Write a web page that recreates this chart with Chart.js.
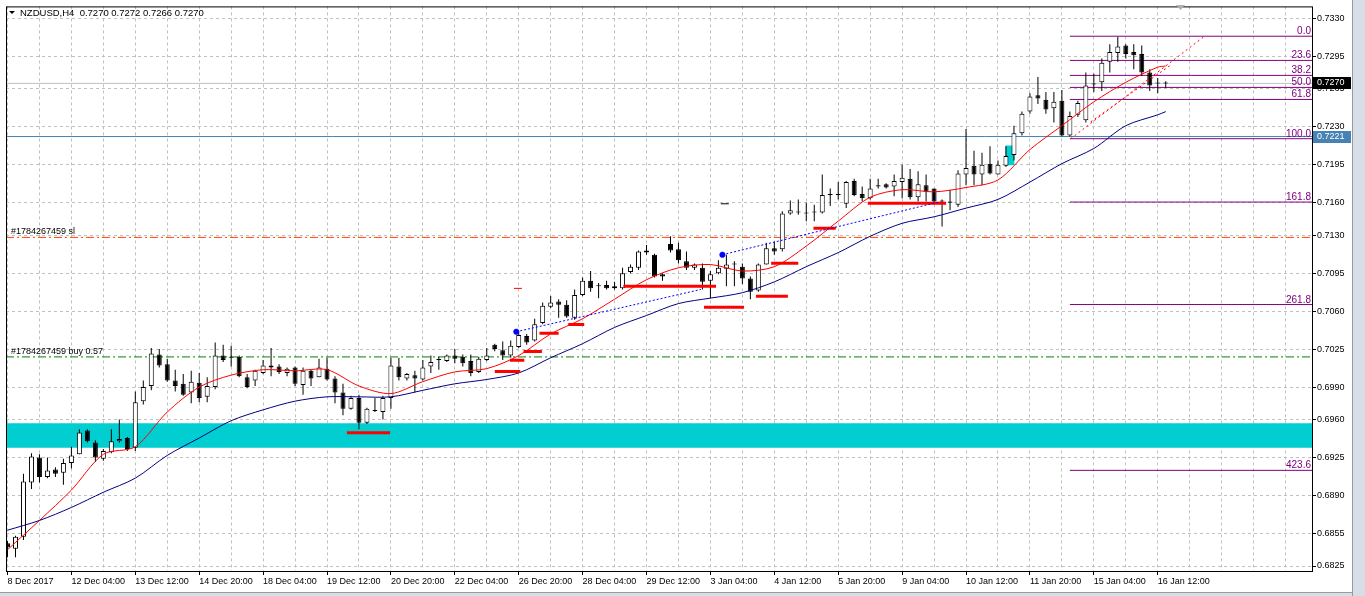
<!DOCTYPE html>
<html>
<head>
<meta charset="utf-8">
<script src="https://cdn.jsdelivr.net/npm/chart.js@4.4.1/dist/chart.umd.min.js"></script>
<style>
  html, body { margin: 0; padding: 0; background: #fff; overflow: hidden; }
  #wrap { width: 1365px; height: 596px; }
</style>
</head>
<body>
<div id="wrap"><canvas id="c" width="1365" height="596"></canvas></div>
<script>
// NZDUSD H4 candles
const opens = [0.6846,0.6841,0.6852,0.6902,0.6925,0.6907,0.6914,0.6911,0.6920,0.6928,
  0.6950,0.6939,0.6924,0.6930,0.6940,0.6943,0.6934,0.6977,0.6991,0.7020,
  0.7011,0.6996,0.6993,0.6985,0.6994,0.6981,0.6990,0.7019,0.7017,0.7018,
  0.6999,0.6996,0.7003,0.7010,0.7009,0.7003,0.7008,0.6992,0.7005,0.6999,
  0.7007,0.6998,0.6985,0.6970,0.6980,0.6957,0.6968,0.6967,0.6980,0.7009,
  0.6998,0.7001,0.6997,0.7009,0.7015,0.7014,0.7019,0.7018,0.7014,0.7004,
  0.7015,0.7029,0.7024,0.7019,0.7027,0.7037,0.7033,0.7049,0.7064,0.7069,
  0.7066,0.7054,0.7075,0.7088,0.7083,0.7084,0.7081,0.7081,0.7096,0.7100,
  0.7116,0.7112,0.7094,0.7122,0.7117,0.7106,0.7100,0.7100,0.7088,0.7095,
  0.7099,0.7103,0.7101,0.7090,0.7079,0.7103,0.7118,0.7117,0.7150,0.7151,
  0.7151,0.7151,0.7151,0.7168,0.7167,0.7159,0.7180,0.7168,0.7164,0.7175,
  0.7177,0.7175,0.7179,0.7182,0.7165,0.7176,0.7173,0.7161,0.7161,0.7158,
  0.7186,0.7194,0.7186,0.7196,0.7186,0.7194,0.7204,0.7224,0.7244,0.7259,
  0.7255,0.7247,0.7254,0.7222,0.7241,0.7236,0.7270,0.7271,0.7290,0.7298,
  0.7305,0.7299,0.7297,0.7280,0.7270,0.7270];
const highs = [0.6848,0.6853,0.6910,0.6929,0.6928,0.6925,0.6916,0.6924,0.6935,0.6951,
  0.6951,0.6941,0.6933,0.6951,0.6960,0.6944,0.6986,0.6996,0.7026,0.7025,
  0.7016,0.7006,0.7002,0.7005,0.7003,0.6999,0.7031,0.7029,0.7028,0.7019,
  0.7002,0.7006,0.7015,0.7026,0.7011,0.7008,0.7009,0.7008,0.7006,0.7016,
  0.7017,0.7000,0.6993,0.6982,0.6983,0.6971,0.6980,0.6982,0.7017,0.7017,
  0.7003,0.7005,0.7015,0.7019,0.7018,0.7020,0.7025,0.7020,0.7020,0.7018,
  0.7026,0.7030,0.7032,0.7033,0.7040,0.7039,0.7053,0.7068,0.7074,0.7071,
  0.7070,0.7080,0.7091,0.7097,0.7086,0.7088,0.7087,0.7100,0.7103,0.7116,
  0.7121,0.7113,0.7095,0.7129,0.7123,0.7115,0.7104,0.7104,0.7097,0.7107,
  0.7112,0.7106,0.7104,0.7092,0.7104,0.7123,0.7124,0.7152,0.7162,0.7163,
  0.7160,0.7158,0.7186,0.7173,0.7179,0.7180,0.7182,0.7175,0.7182,0.7182,
  0.7178,0.7186,0.7195,0.7191,0.7189,0.7186,0.7173,0.7163,0.7172,0.7190,
  0.7228,0.7208,0.7206,0.7212,0.7199,0.7212,0.7231,0.7244,0.7261,0.7276,
  0.7262,0.7262,0.7264,0.7244,0.7254,0.7280,0.7279,0.7293,0.7306,0.7313,
  0.7306,0.7306,0.7305,0.7283,0.7275,0.7272];
const lows = [0.6833,0.6833,0.6849,0.6896,0.6902,0.6906,0.6907,0.6900,0.6915,0.6928,
  0.6939,0.6921,0.6922,0.6929,0.6939,0.6931,0.6931,0.6974,0.6987,0.7008,
  0.6995,0.6986,0.6982,0.6975,0.6976,0.6976,0.6988,0.7013,0.7009,0.6999,
  0.6989,0.6991,0.7002,0.7000,0.7002,0.7000,0.6991,0.6983,0.6991,0.6999,
  0.6996,0.6975,0.6964,0.6969,0.6951,0.6956,0.6967,0.6960,0.6970,0.6996,
  0.6996,0.6985,0.6996,0.7003,0.7006,0.7013,0.7012,0.7009,0.7000,0.7003,
  0.7014,0.7023,0.7015,0.7017,0.7026,0.7029,0.7032,0.7048,0.7063,0.7054,
  0.7054,0.7052,0.7074,0.7078,0.7072,0.7080,0.7080,0.7080,0.7095,0.7098,
  0.7112,0.7091,0.7088,0.7114,0.7104,0.7098,0.7098,0.7080,0.7072,0.7094,
  0.7083,0.7083,0.7085,0.7071,0.7078,0.7103,0.7112,0.7115,0.7149,0.7149,
  0.7143,0.7143,0.7150,0.7157,0.7163,0.7155,0.7166,0.7161,0.7163,0.7173,
  0.7173,0.7166,0.7164,0.7163,0.7161,0.7161,0.7159,0.7138,0.7153,0.7156,
  0.7176,0.7176,0.7176,0.7186,0.7186,0.7193,0.7199,0.7222,0.7242,0.7251,
  0.7242,0.7234,0.7221,0.7221,0.7239,0.7234,0.7262,0.7263,0.7280,0.7290,
  0.7293,0.7283,0.7277,0.7263,0.7261,0.7266];
const closes = [0.6842,0.6852,0.6903,0.6926,0.6907,0.6913,0.6910,0.6920,0.6927,0.6948,
  0.6940,0.6925,0.6931,0.6940,0.6942,0.6933,0.6976,0.6990,0.7021,0.7010,
  0.6996,0.6991,0.6983,0.6995,0.6980,0.6991,0.7019,0.7015,0.7017,0.7000,
  0.6990,0.7005,0.7010,0.7008,0.7004,0.7007,0.6993,0.7005,0.6998,0.7008,
  0.6997,0.6985,0.6970,0.6980,0.6957,0.6970,0.6968,0.6980,0.7010,0.6999,
  0.7002,0.6998,0.7008,0.7013,0.7015,0.7019,0.7016,0.7012,0.7003,0.7016,
  0.7019,0.7025,0.7019,0.7028,0.7038,0.7031,0.7048,0.7065,0.7068,0.7066,
  0.7055,0.7075,0.7088,0.7081,0.7083,0.7081,0.7083,0.7095,0.7101,0.7115,
  0.7114,0.7092,0.7092,0.7116,0.7107,0.7100,0.7103,0.7087,0.7094,0.7100,
  0.7103,0.7103,0.7090,0.7078,0.7103,0.7118,0.7115,0.7150,0.7153,0.7151,
  0.7150,0.7151,0.7167,0.7167,0.7167,0.7179,0.7167,0.7164,0.7173,0.7176,
  0.7174,0.7180,0.7183,0.7165,0.7177,0.7170,0.7161,0.7161,0.7160,0.7187,
  0.7192,0.7186,0.7195,0.7187,0.7195,0.7203,0.7224,0.7242,0.7258,0.7256,
  0.7246,0.7253,0.7222,0.7240,0.7252,0.7268,0.7269,0.7289,0.7299,0.7304,
  0.7297,0.7296,0.7280,0.7268,0.7270,0.7270];

// moving averages, read every 4th bar
const maBars = [0,4,8,12,16,20,24,28,32,36,40,44,48,52,56,60,64,68,72,76,80,84,88,92,96,100,104,108,112,116,120,124,128,132,136,140,144,145];
const redMa = [0.6840,0.6867,0.6895,0.6928,0.6935,0.6967,0.6990,0.7001,0.7006,0.7005,0.7006,0.6991,0.6984,0.6995,0.7004,0.7007,0.7019,0.7039,0.7053,0.7071,0.7089,0.7100,0.7103,0.7097,0.7101,0.7120,0.7143,0.7165,0.7172,0.7170,0.7174,0.7181,0.7209,0.7231,0.7253,0.7271,0.7285,0.7286];
const navyMa = [0.6858,0.6867,0.6879,0.6893,0.6906,0.6927,0.6943,0.6959,0.6969,0.6977,0.6981,0.6981,0.6981,0.6987,0.6993,0.6997,0.7003,0.7017,0.7030,0.7045,0.7056,0.7067,0.7072,0.7077,0.7087,0.7101,0.7114,0.7129,0.7141,0.7147,0.7155,0.7163,0.7179,0.7196,0.7210,0.7231,0.7241,0.7244];

// axis labels
const xLabels = ['8 Dec 2017','12 Dec 04:00','13 Dec 12:00','14 Dec 20:00','18 Dec 04:00','19 Dec 12:00',
  '20 Dec 20:00','22 Dec 04:00','26 Dec 20:00','28 Dec 04:00','29 Dec 12:00','3 Jan 04:00','4 Jan 12:00',
  '5 Jan 20:00','9 Jan 04:00','10 Jan 12:00','11 Jan 20:00','15 Jan 04:00','16 Jan 12:00'];
const yTicks = [0.6825,0.6855,0.6890,0.6925,0.6960,0.6990,0.7025,0.7060,0.7095,0.7130,0.7160,0.7195,0.7230,0.7265,0.7295,0.7330];

// fibonacci levels
const fibNames = ['0.0','23.6','38.2','50.0','61.8','100.0','161.8','261.8','423.6'];
const fibPrices = [0.73135,0.72912,0.72774,0.72663,0.72552,0.72190,0.71606,0.70661,0.69132];

// other objects on the chart
const zoneTop = 0.69566, zoneBottom = 0.69340;
const boxBar = 125.5, boxLow = 0.71948, boxHigh = 0.72125;
const bidPrice = 0.7270, bluePrice = 0.7221;
const slPrice = 0.71280, buyPrice = 0.70178;
const supportBars = [[42.5,47.9],[61,64.2],[62.9,64.7],[64.6,66.9],[66.6,69],[70.2,72.2],[77.1,88.7],[87.2,92.2],[93.7,97.7],[95.6,99],[100.9,103.7],[107.7,117.5]];
const supportPrices = [0.69478,0.70043,0.70148,0.70227,0.70396,0.70478,0.70830,0.70637,0.70738,0.71041,0.71365,0.71595];
const dashBars = [[63.4,64.4],[89.3,90.3]];
const dashPrices = [0.70810,0.71590];
const dashColors = ['#FF0000','#000000'];
const blueTrendBars = [[63.7,86.8],[89.5,116.8]];
const blueTrendPrices = [[0.70410,0.70800],[0.71120,0.71610]];
const redTrendBars = [[133.1,149.7],[135.6,145.6]];
const redTrendPrices = [[0.72190,0.73126],[0.72345,0.72868]];

const xMin = -0.1875, xMax = 163.3125;
const seg = (x1, x2, v) => [{x: x1, y: v}, {x: x2, y: v}];

const datasets = [];
datasets.push({
  type: 'line', data: seg(xMin, xMax, zoneTop), borderWidth: 0, pointRadius: 0,
  backgroundColor: '#00CED1', fill: {value: zoneBottom}, order: 20
});
datasets.push({
  type: 'bar', data: [{x: boxBar, y: [boxLow, boxHigh]}], backgroundColor: '#00CED1',
  barThickness: 8, grouped: false, order: 19
});
datasets.push({type: 'line', data: seg(xMin, xMax, bidPrice), borderColor: '#C0C0C0', borderWidth: 1, pointRadius: 0, order: 18});
datasets.push({type: 'line', data: seg(xMin, xMax, bluePrice), borderColor: '#4682B4', borderWidth: 1, pointRadius: 0, order: 18});
datasets.push({type: 'line', data: seg(xMin, xMax, slPrice), borderColor: '#FF4500', borderWidth: 1, borderDash: [8, 3, 2, 3], pointRadius: 0, order: 18});
datasets.push({type: 'line', data: seg(xMin, xMax, buyPrice), borderColor: '#008000', borderWidth: 1, borderDash: [8, 3, 2, 3], pointRadius: 0, order: 18});
fibPrices.forEach(p => datasets.push({
  type: 'line', data: seg(133, xMax, p), borderColor: '#800080', borderWidth: 1, pointRadius: 0, order: 17
}));

datasets.push({
  type: 'bar', data: opens.map((o, i) => ({x: i, y: [lows[i], highs[i]]})),
  backgroundColor: '#000', barThickness: 1, grouped: false, minBarLength: 1, inflateAmount: 0, order: 10
});
datasets.push({
  type: 'bar', data: opens.map((o, i) => ({x: i, y: [o, closes[i]]})),
  backgroundColor: opens.map((o, i) => closes[i] >= o ? '#FFFFFF' : '#000000'),
  borderColor: '#000', borderWidth: 1, borderSkipped: false,
  barThickness: 5, grouped: false, minBarLength: 1, inflateAmount: 0, order: 9
});

datasets.push({type: 'line', data: maBars.map((b, i) => ({x: b, y: navyMa[i]})), borderColor: '#000080', borderWidth: 1, pointRadius: 0, tension: 0.3, order: 5});
datasets.push({type: 'line', data: maBars.map((b, i) => ({x: b, y: redMa[i]})), borderColor: '#FF0000', borderWidth: 1, pointRadius: 0, tension: 0.3, order: 5});

supportBars.forEach((b, i) => datasets.push({
  type: 'line', data: seg(b[0], b[1], supportPrices[i]), borderColor: '#FF0000', borderWidth: 3, pointRadius: 0, order: 3
}));
dashBars.forEach((b, i) => datasets.push({
  type: 'line', data: seg(b[0], b[1], dashPrices[i]), borderColor: dashColors[i], borderWidth: 1, pointRadius: 0, order: 3
}));
blueTrendBars.forEach((b, i) => datasets.push({
  type: 'line', data: [{x: b[0], y: blueTrendPrices[i][0]}, {x: b[1], y: blueTrendPrices[i][1]}],
  borderColor: '#0000FF', borderWidth: 1, borderDash: [2, 2], pointRadius: 0, order: 2
}));
redTrendBars.forEach((b, i) => datasets.push({
  type: 'line', data: [{x: b[0], y: redTrendPrices[i][0]}, {x: b[1], y: redTrendPrices[i][1]}],
  borderColor: '#FF0000', borderWidth: 1, borderDash: [2, 3], pointRadius: 0, order: 2
}));
datasets.push({
  type: 'scatter', data: blueTrendBars.map((b, i) => ({x: b[0], y: blueTrendPrices[i][0]})),
  pointStyle: 'star', pointRadius: 3, borderColor: '#0000FF', borderWidth: 2, order: 1
});

const overlay = {
  id: 'overlay',
  afterDraw(chart) {
    const {ctx, chartArea: a, scales: {y}} = chart;
    ctx.save();
    // window frame
    ctx.fillStyle = '#D6DEE8';
    ctx.fillRect(1352, 0, 13, 596);
    ctx.fillRect(0, 593, 1352, 3);
    ctx.fillStyle = '#9A9A9A';
    ctx.fillRect(1352, 0, 1, 596);
    ctx.fillRect(0, 592, 1352, 1);
    ctx.strokeStyle = '#000';
    ctx.lineWidth = 1;
    ctx.strokeRect(a.left + 0.5, a.top + 0.5, a.right - a.left, a.bottom - a.top);

    // title
    ctx.fillStyle = '#000';
    ctx.beginPath();
    ctx.moveTo(9, 11); ctx.lineTo(15, 11); ctx.lineTo(12, 14); ctx.closePath(); ctx.fill();
    ctx.font = '9.5px "Liberation Sans", Arial, sans-serif';
    ctx.textBaseline = 'middle';
    ctx.textAlign = 'left';
    ctx.fillText('NZDUSD,H4  0.7270 0.7272 0.7266 0.7270', 20, 13);

    // chart shift mark
    ctx.fillStyle = '#B0B0B0';
    ctx.beginPath();
    ctx.moveTo(1176, 5); ctx.lineTo(1185, 5); ctx.lineTo(1180.5, 10); ctx.closePath(); ctx.fill();

    // trade labels
    ctx.textBaseline = 'alphabetic';
    ctx.font = '9px "Liberation Sans", Arial, sans-serif';
    ctx.fillStyle = '#000';
    ctx.fillText('#1784267459 sl', 11, y.getPixelForValue(slPrice) - 3);
    ctx.fillText('#1784267459 buy 0.57', 11, y.getPixelForValue(buyPrice) - 3);

    // fib labels
    ctx.font = '10px "Liberation Sans", Arial, sans-serif';
    ctx.fillStyle = '#800080';
    ctx.textAlign = 'right';
    fibPrices.forEach((p, i) => ctx.fillText(fibNames[i], a.right - 1, y.getPixelForValue(p) - 2));

    // price boxes on the axis
    ctx.font = '9px "Liberation Sans", Arial, sans-serif';
    ctx.textAlign = 'left';
    ctx.textBaseline = 'middle';
    [[bidPrice, '#000000'], [bluePrice, '#4682B4']].forEach(([p, col]) => {
      const py = Math.round(y.getPixelForValue(p));
      ctx.fillStyle = col;
      ctx.fillRect(a.right + 1, py - 6, 38, 12);
      ctx.fillStyle = '#FFFFFF';
      ctx.fillText(p.toFixed(4), a.right + 5, py);
    });
    ctx.restore();
  }
};

new Chart(document.getElementById('c'), {
  type: 'bar',
  data: {datasets},
  options: {
    responsive: false,
    animation: false,
    events: [],
    layout: {padding: {left: 4, top: 4, right: 0, bottom: 0}},
    plugins: {legend: {display: false}, tooltip: {enabled: false}},
    scales: {
      x: {
        type: 'linear', min: xMin, max: xMax, offset: false,
        afterBuildTicks: s => { s.ticks = []; for (let v = 0; v <= 160; v += 4) s.ticks.push({value: v}); },
        afterFit: s => { s.height = 25; },
        grid: {
          offset: false, color: '#C0C0C0', lineWidth: 1, tickLength: 4,
          tickColor: c => (c.tick && c.tick.value % 8 === 0 && xLabels[c.tick.value / 8]) ? '#000000' : 'rgba(0,0,0,0)'
        },
        border: {display: false, dash: [3, 3]},
        ticks: {
          autoSkip: false, maxRotation: 0, align: 'start', padding: 1, color: '#000',
          font: {family: '"Liberation Sans", Arial, sans-serif', size: 9},
          callback: v => (v % 8 === 0 && xLabels[v / 8]) ? xLabels[v / 8] : ''
        }
      },
      y: {
        type: 'linear', position: 'right', min: 0.68204, max: 0.73410,
        afterBuildTicks: s => { s.ticks = yTicks.map(v => ({value: v})); },
        afterFit: s => { s.width = 53; },
        grid: {color: '#C0C0C0', lineWidth: 1, tickLength: 4, tickColor: '#000'},
        border: {display: false, dash: [3, 3]},
        ticks: {
          padding: 1, color: '#000',
          font: {family: '"Liberation Sans", Arial, sans-serif', size: 9},
          callback: v => v.toFixed(4)
        }
      }
    }
  },
  plugins: [overlay]
});
</script>
</body>
</html>
